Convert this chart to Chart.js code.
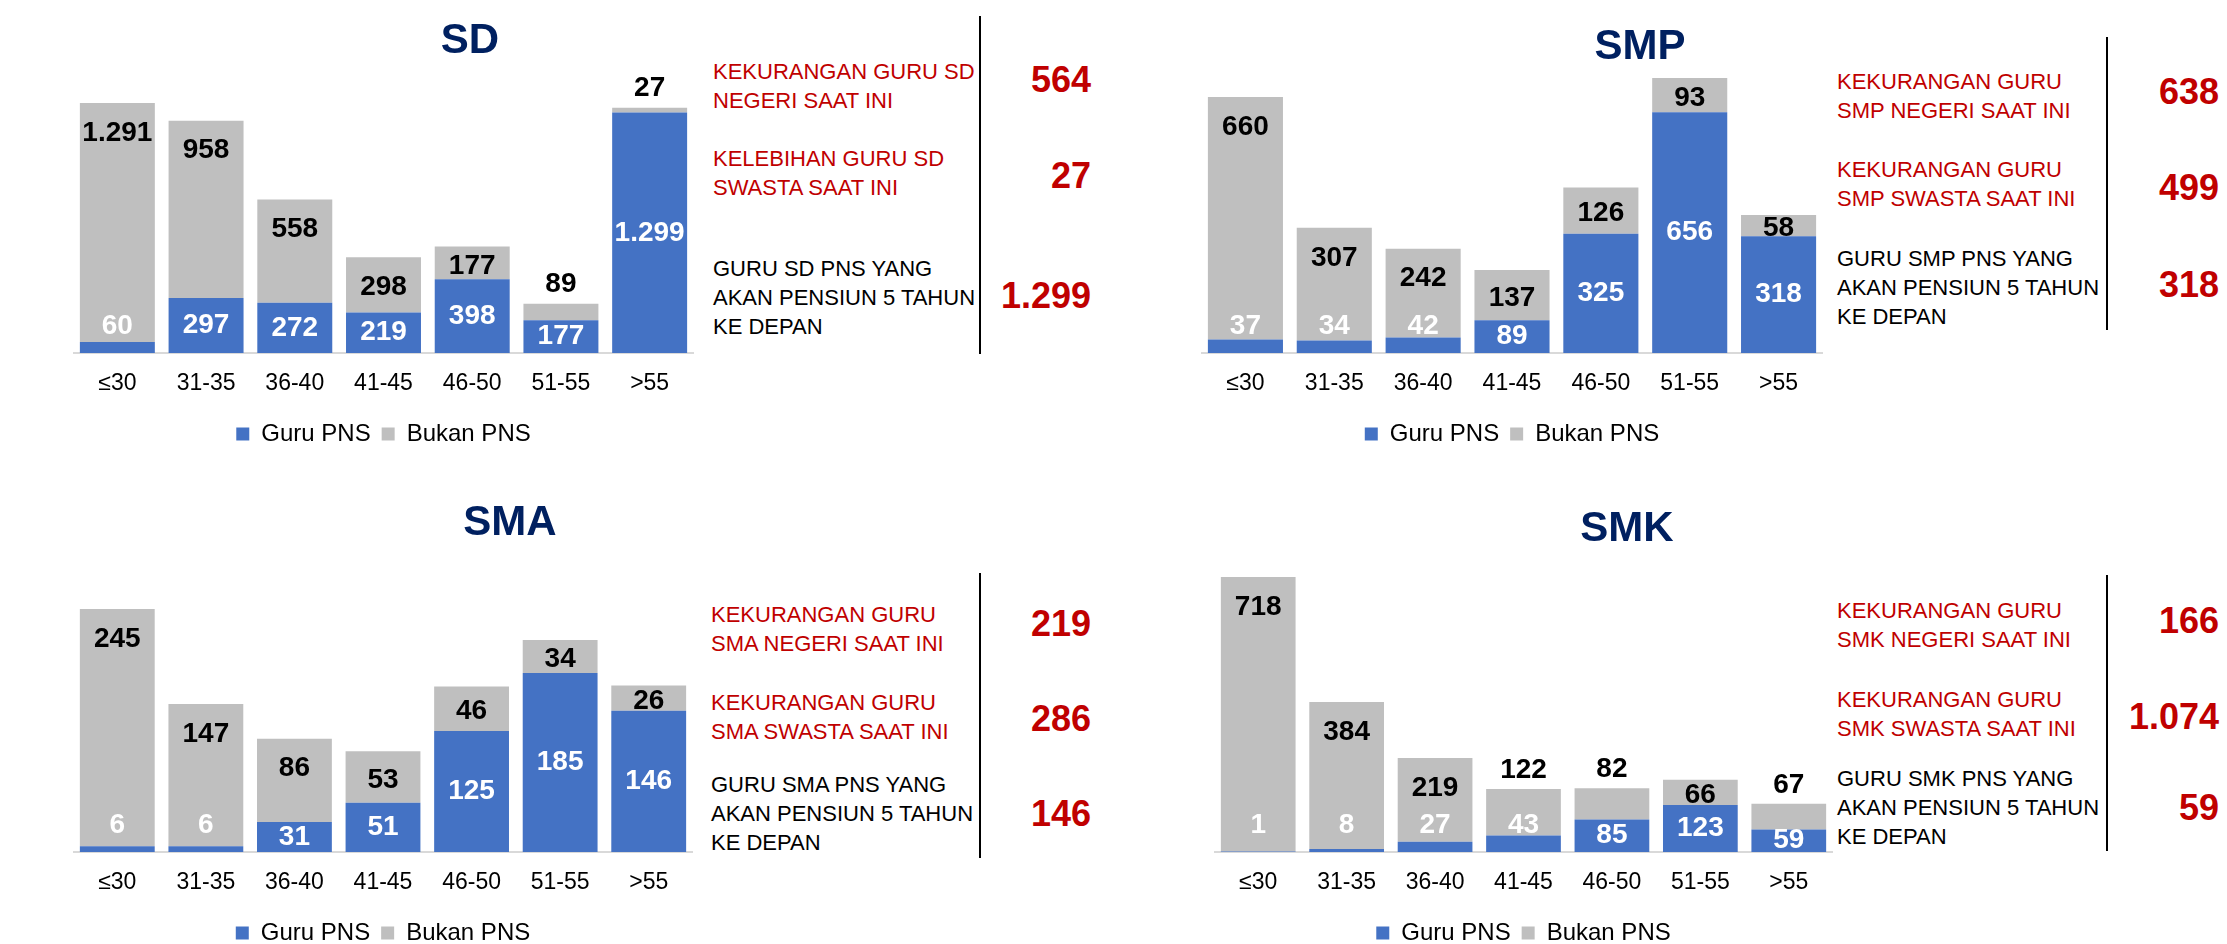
<!DOCTYPE html>
<html>
<head>
<meta charset="utf-8">
<script src="https://cdn.jsdelivr.net/npm/chart.js@4/dist/chart.umd.min.js"></script>
<style>
  body { margin: 0; width: 2227px; height: 944px; background: #fff; position: relative; overflow: hidden;
         font-family: "Liberation Sans", Arial, sans-serif; }
  canvas { position: absolute; }
  .title { position: absolute; font-size: 42px; line-height: 42px; font-weight: bold; color: #002060; transform: translateX(-50%); white-space: nowrap; }
  .note { position: absolute; font-size: 22px; line-height: 29px; white-space: pre; }
  .big { position: absolute; font-size: 36px; line-height: 36px; font-weight: bold; color: #c00000; text-align: right; width: 200px; }
  .vline { position: absolute; border-left: 2px solid #000; width: 0; }
</style>
</head>
<body>
<script>
// age groups on the x axis
const ageGroups = ['≤30', '31-35', '36-40', '41-45', '46-50', '51-55', '>55'];
const seriesNames = ['Guru PNS', 'Bukan PNS'];

// SD
const sdPns = [60, 297, 272, 219, 398, 177, 1299];
const sdBukan = [1291, 958, 558, 298, 177, 89, 27];
const sdSummary = [564, 27, 1299];
// SMP
const smpPns = [37, 34, 42, 89, 325, 656, 318];
const smpBukan = [660, 307, 242, 137, 126, 93, 58];
const smpSummary = [638, 499, 318];
// SMA
const smaPns = [6, 6, 31, 51, 125, 185, 146];
const smaBukan = [245, 147, 86, 53, 46, 34, 26];
const smaSummary = [219, 286, 146];
// SMK
const smkPns = [1, 8, 27, 43, 85, 123, 59];
const smkBukan = [718, 384, 219, 122, 82, 66, 67];
const smkSummary = [166, 1074, 59];

const FONT = '"Liberation Sans", Arial, sans-serif';
const BLUE = '#4472C4';
const GREY = '#BFBFBF';
const RED = '#c00000';

const fmt = v => String(v).replace(/\B(?=(\d{3})+(?!\d))/g, '.');

const panels = [
  { name: 'SD', pns: sdPns, bukan: sdBukan, summary: sdSummary,
    notes: ['KEKURANGAN GURU SD\nNEGERI SAAT INI', 'KELEBIHAN GURU SD\nSWASTA SAAT INI', 'GURU SD PNS YANG\nAKAN PENSIUN 5 TAHUN\nKE DEPAN'],
    above: [5, 6],
    box: { left: 73, top: 0, width: 621, chartTop: 103, base: 353 },
    title: [470, 38.5], textX: 713, noteY: [56.5, 143.5, 253.5], numRight: 1091, numY: [62, 158, 278],
    line: [980, 16, 354] },
  { name: 'SMP', pns: smpPns, bukan: smpBukan, summary: smpSummary,
    notes: ['KEKURANGAN GURU\nSMP NEGERI SAAT INI', 'KEKURANGAN GURU\nSMP SWASTA SAAT INI', 'GURU SMP PNS YANG\nAKAN PENSIUN 5 TAHUN\nKE DEPAN'],
    above: [],
    box: { left: 1201, top: 0, width: 622, chartTop: 78, base: 353 },
    title: [1640, 45], textX: 1837, noteY: [66.5, 154.5, 243.5], numRight: 2219, numY: [74, 170, 267],
    line: [2107, 37, 330] },
  { name: 'SMA', pns: smaPns, bukan: smaBukan, summary: smaSummary,
    notes: ['KEKURANGAN GURU\nSMA NEGERI SAAT INI', 'KEKURANGAN GURU\nSMA SWASTA SAAT INI', 'GURU SMA PNS YANG\nAKAN PENSIUN 5 TAHUN\nKE DEPAN'],
    above: [],
    box: { left: 73, top: 472, width: 620, chartTop: 609, base: 852 },
    title: [510, 521], textX: 711, noteY: [599.5, 687.5, 769.5], numRight: 1091, numY: [606, 701, 796],
    line: [980, 573, 858] },
  { name: 'SMK', pns: smkPns, bukan: smkBukan, summary: smkSummary,
    notes: ['KEKURANGAN GURU\nSMK NEGERI SAAT INI', 'KEKURANGAN GURU\nSMK SWASTA SAAT INI', 'GURU SMK PNS YANG\nAKAN PENSIUN 5 TAHUN\nKE DEPAN'],
    above: [3, 4, 6],
    box: { left: 1214, top: 472, width: 619, chartTop: 577, base: 852 },
    title: [1627, 527], textX: 1837, noteY: [595.5, 684.5, 763.5], numRight: 2219, numY: [603, 699, 790],
    line: [2107, 575, 851] }
];

// value labels on the stacked bars
const barLabels = {
  id: 'barLabels',
  afterDatasetsDraw(chart, args, opts) {
    const ctx = chart.ctx;
    const bottom = chart.chartArea.bottom;
    ctx.save();
    ctx.font = 'bold 28px ' + FONT;
    ctx.textAlign = 'center';
    ctx.textBaseline = 'middle';
    chart.data.datasets.forEach((ds, di) => {
      chart.getDatasetMeta(di).data.forEach((bar, i) => {
        const top = bar.y, base = bar.base, h = base - top;
        let y;
        if (di === 0) {
          ctx.fillStyle = '#fff';
          y = h < 20 ? bottom - 27 : (top + base) / 2;
        } else {
          ctx.fillStyle = '#000';
          y = opts.above.includes(i) ? top - 19 : Math.min(top + 30, (top + base) / 2 + 3);
        }
        ctx.fillText(fmt(ds.data[i]), bar.x, y);
      });
    });
    ctx.restore();
  }
};

function addDiv(cls, text, css) {
  const d = document.createElement('div');
  d.className = cls;
  d.textContent = text;
  Object.assign(d.style, css);
  document.body.appendChild(d);
  return d;
}

panels.forEach(p => {
  const b = p.box;
  const canvas = document.createElement('canvas');
  canvas.width = b.width;
  canvas.height = b.base - b.top + 103;
  canvas.style.left = b.left + 'px';
  canvas.style.top = b.top + 'px';
  document.body.appendChild(canvas);

  const totals = p.pns.map((v, i) => v + p.bukan[i]);

  new Chart(canvas, {
    type: 'bar',
    data: {
      labels: ageGroups,
      datasets: [
        { label: seriesNames[0], data: p.pns, backgroundColor: BLUE, barPercentage: 0.845, categoryPercentage: 1 },
        { label: seriesNames[1], data: p.bukan, backgroundColor: GREY, barPercentage: 0.845, categoryPercentage: 1 }
      ]
    },
    options: {
      responsive: false,
      animation: false,
      layout: { padding: { top: b.chartTop - b.top, left: 0, right: 0, bottom: 0 } },
      scales: {
        x: {
          stacked: true,
          grid: { display: false, drawTicks: false },
          border: { display: true, color: '#d9d9d9', width: 2 },
          ticks: { color: '#000', font: { size: 23, family: FONT }, padding: 17 },
          afterFit: s => { s.height = 58; }
        },
        y: { stacked: true, display: false, min: 0, max: Math.max(...totals) }
      },
      plugins: {
        legend: {
          position: 'bottom',
          labels: { boxWidth: 13, boxHeight: 13, padding: 11, color: '#000', font: { size: 24, family: FONT } }
        },
        tooltip: { enabled: false },
        barLabels: { above: p.above }
      }
    },
    plugins: [barLabels]
  });

  addDiv('title', p.name, { left: p.title[0] + 'px', top: (p.title[1] - 21) + 'px' });
  p.notes.forEach((t, k) => {
    addDiv('note', t, { left: p.textX + 'px', top: p.noteY[k] + 'px', color: k < 2 ? RED : '#000' });
    addDiv('big', fmt(p.summary[k]), { left: (p.numRight - 200) + 'px', top: p.numY[k] + 'px' });
  });
  addDiv('vline', '', { left: (p.line[0] - 1) + 'px', top: p.line[1] + 'px', height: (p.line[2] - p.line[1]) + 'px' });
});
</script>
</body>
</html>
